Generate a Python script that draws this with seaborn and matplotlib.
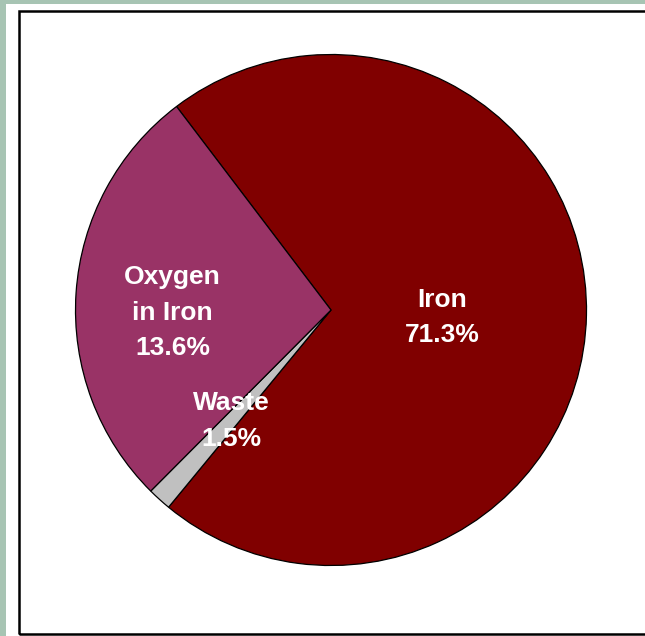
import matplotlib
matplotlib.use("Agg")
import matplotlib.pyplot as plt
from matplotlib.patches import Rectangle
import seaborn as sns

# Slices in drawing order (clockwise from the upper-left boundary)
categories = ["Iron", "Waste", "Oxygen\nin Iron"]
wedge_shares = [71.3, 1.5, 27.2]      # share of the circle each slice covers
stated_pct = [71.3, 1.5, 13.6]        # percentage printed on each slice
slice_colors = ["#800000", "#C0C0C0", "#993366"]
label_xy = [(0.435, -0.03), (-0.39, -0.435), (-0.62, -0.01)]

sns.set_theme(style="white")
plt.rcParams["font.family"] = ["Liberation Sans", "DejaVu Sans"]

W, H = 645, 636
fig = plt.figure(figsize=(W / 100, H / 100), dpi=100, facecolor="#A7C4B3")

# white card with a dark frame
fig.patches.append(Rectangle((6 / W, 0), 1, (H - 4) / H, transform=fig.transFigure,
                             facecolor="white", edgecolor="none", zorder=-2))
fig.patches.append(Rectangle((18.5 / W, 2.5 / H), 1, (H - 13.5) / H, transform=fig.transFigure,
                             facecolor="none", edgecolor="black", linewidth=1.8, zorder=-1))

cx, cy, r = 331, 310, 255.5
ax = fig.add_axes([(cx - r) / W, (H - cy - r) / H, 2 * r / W, 2 * r / H])
ax.set_zorder(5)
ax.set_facecolor("none")

wedges, _ = ax.pie(wedge_shares, colors=slice_colors, startangle=127.2, counterclock=False,
                   wedgeprops=dict(edgecolor="black", linewidth=0.9), radius=1.0)
ax.set_xlim(-1.0, 1.0)
ax.set_ylim(-1.0, 1.0)
ax.set_aspect("equal")
ax.axis("off")

for name, pct, (tx, ty) in zip(categories, stated_pct, label_xy):
    ax.text(tx, ty, f"{name}\n{pct:.1f}%", ha="center", va="center", color="white",
            fontsize=19, fontweight="bold", linespacing=1.6)

fig.savefig("out.png", dpi=100, facecolor=fig.get_facecolor())
